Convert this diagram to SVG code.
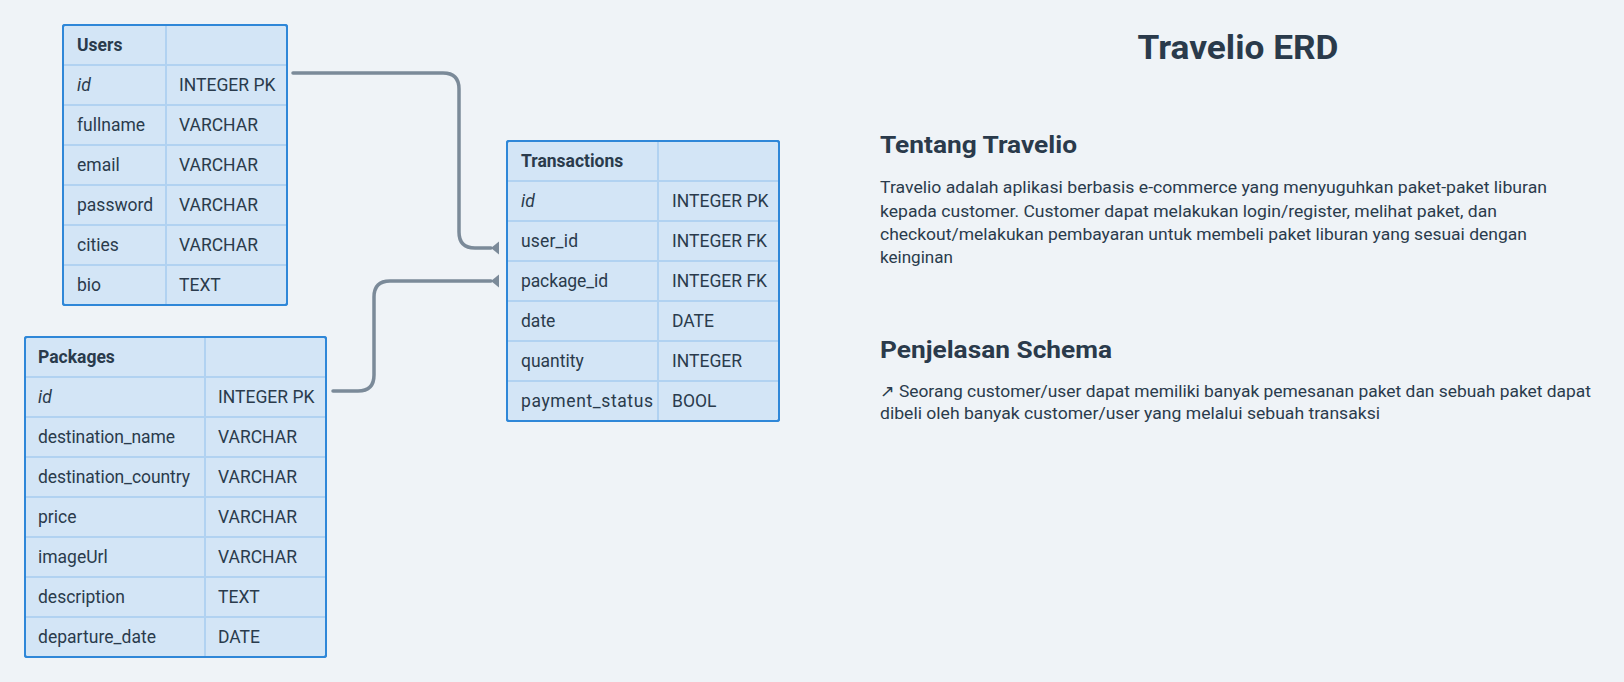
<svg xmlns="http://www.w3.org/2000/svg" width="1624" height="682" viewBox="0 0 1624 682">
<defs>
<style>
.bg{fill:#eff3f7}
.tbl{fill:#d3e5f6;stroke:#2f87d8;stroke-width:2}
.grid{stroke:#b1d2f1;stroke-width:2;fill:none}
.t{font-family:Roboto,"Liberation Sans",sans-serif;font-size:17.5px;fill:#2a3b4c}
.h{font-weight:bold}
.i{font-style:italic}
.conn{fill:none;stroke:#7b8a99;stroke-width:3.5;stroke-linecap:round}
.title{font-family:Roboto,"Liberation Sans",sans-serif;font-size:33px;font-weight:bold;fill:#2a3a4b}
.head{font-family:Roboto,"Liberation Sans",sans-serif;font-size:24px;font-weight:bold;fill:#2a3a4b}
.body{font-family:Roboto,"DejaVu Sans",sans-serif;font-size:17px;fill:#2a3b4c}
</style>
<marker id="fk" markerUnits="userSpaceOnUse" markerWidth="12" markerHeight="16" refX="0" refY="8" orient="auto" viewBox="0 0 12 16">
<path d="M0,8 L8,1.5 L8,14.5 Z" fill="#7b8a99"/>
</marker>
</defs>
<rect class="bg" x="0" y="0" width="1624" height="682"/>

<g id="connectors">
<path class="conn" d="M293,73 H443 Q459,73 459,89 V232 Q459,248 475,248 H491" marker-end="url(#fk)"/>
<path class="conn" d="M333,391 H358 Q374,391 374,375 V297 Q374,281 390,281 H491" marker-end="url(#fk)"/>
</g>

<g id="users">
<rect class="tbl" x="63" y="25" width="224" height="280" rx="2"/>
<path class="grid" d="M166,26 V304 M64,65 H286 M64,105 H286 M64,145 H286 M64,185 H286 M64,225 H286 M64,265 H286"/>
<rect x="63" y="25" width="224" height="280" rx="2" fill="none" stroke="#2f87d8" stroke-width="2"/>
<text class="t h" x="77" y="51">Users</text>
<text class="t i" x="77" y="91">id</text><text class="t" x="179" y="91">INTEGER PK</text>
<text class="t" x="77" y="131">fullname</text><text class="t" x="179" y="131">VARCHAR</text>
<text class="t" x="77" y="171">email</text><text class="t" x="179" y="171">VARCHAR</text>
<text class="t" x="77" y="211">password</text><text class="t" x="179" y="211">VARCHAR</text>
<text class="t" x="77" y="251">cities</text><text class="t" x="179" y="251">VARCHAR</text>
<text class="t" x="77" y="291">bio</text><text class="t" x="179" y="291">TEXT</text>
</g>

<g id="packages">
<rect class="tbl" x="25" y="337" width="301" height="320" rx="2"/>
<path class="grid" d="M205,338 V656 M26,377 H325 M26,417 H325 M26,457 H325 M26,497 H325 M26,537 H325 M26,577 H325 M26,617 H325"/>
<rect x="25" y="337" width="301" height="320" rx="2" fill="none" stroke="#2f87d8" stroke-width="2"/>
<text class="t h" x="38" y="363">Packages</text>
<text class="t i" x="38" y="403">id</text><text class="t" x="218" y="403">INTEGER PK</text>
<text class="t" x="38" y="443" textLength="137" lengthAdjust="spacing">destination_name</text><text class="t" x="218" y="443">VARCHAR</text>
<text class="t" x="38" y="483" textLength="152" lengthAdjust="spacing">destination_country</text><text class="t" x="218" y="483">VARCHAR</text>
<text class="t" x="38" y="523">price</text><text class="t" x="218" y="523">VARCHAR</text>
<text class="t" x="38" y="563">imageUrl</text><text class="t" x="218" y="563">VARCHAR</text>
<text class="t" x="38" y="603">description</text><text class="t" x="218" y="603">TEXT</text>
<text class="t" x="38" y="643" textLength="118" lengthAdjust="spacing">departure_date</text><text class="t" x="218" y="643">DATE</text>
</g>

<g id="transactions">
<rect class="tbl" x="507" y="141" width="272" height="280" rx="2"/>
<path class="grid" d="M658,142 V420 M508,181 H778 M508,221 H778 M508,261 H778 M508,301 H778 M508,341 H778 M508,381 H778"/>
<rect x="507" y="141" width="272" height="280" rx="2" fill="none" stroke="#2f87d8" stroke-width="2"/>
<text class="t h" x="521" y="167">Transactions</text>
<text class="t i" x="521" y="207">id</text><text class="t" x="672" y="207">INTEGER PK</text>
<text class="t" x="521" y="247" textLength="57" lengthAdjust="spacing">user_id</text><text class="t" x="672" y="247">INTEGER FK</text>
<text class="t" x="521" y="287" textLength="87" lengthAdjust="spacing">package_id</text><text class="t" x="672" y="287">INTEGER FK</text>
<text class="t" x="521" y="327">date</text><text class="t" x="672" y="327">DATE</text>
<text class="t" x="521" y="367">quantity</text><text class="t" x="672" y="367">INTEGER</text>
<text class="t" x="521" y="407" textLength="132" lengthAdjust="spacing">payment_status</text><text class="t" x="672" y="407">BOOL</text>
</g>

<g id="notes">
<text class="title" x="1238" y="59" text-anchor="middle" textLength="201" lengthAdjust="spacingAndGlyphs">Travelio ERD</text>
<text class="head" x="880" y="153" textLength="197" lengthAdjust="spacingAndGlyphs">Tentang Travelio</text>
<text class="body" x="880" y="193" textLength="667" lengthAdjust="spacingAndGlyphs">Travelio adalah aplikasi berbasis e-commerce yang menyuguhkan paket-paket liburan</text>
<text class="body" x="880" y="217" textLength="617" lengthAdjust="spacingAndGlyphs">kepada customer. Customer dapat melakukan login/register, melihat paket, dan</text>
<text class="body" x="880" y="240" textLength="647" lengthAdjust="spacingAndGlyphs">checkout/melakukan pembayaran untuk membeli paket liburan yang sesuai dengan</text>
<text class="body" x="880" y="263" textLength="73" lengthAdjust="spacingAndGlyphs">keinginan</text>
<text class="head" x="880" y="358" textLength="232" lengthAdjust="spacingAndGlyphs">Penjelasan Schema</text>
<text class="body" x="880" y="397" textLength="711" lengthAdjust="spacingAndGlyphs">↗ Seorang customer/user dapat memiliki banyak pemesanan paket dan sebuah paket dapat</text>
<text class="body" x="880" y="419" textLength="500" lengthAdjust="spacingAndGlyphs">dibeli oleh banyak customer/user yang melalui sebuah transaksi</text>
</g>
</svg>
